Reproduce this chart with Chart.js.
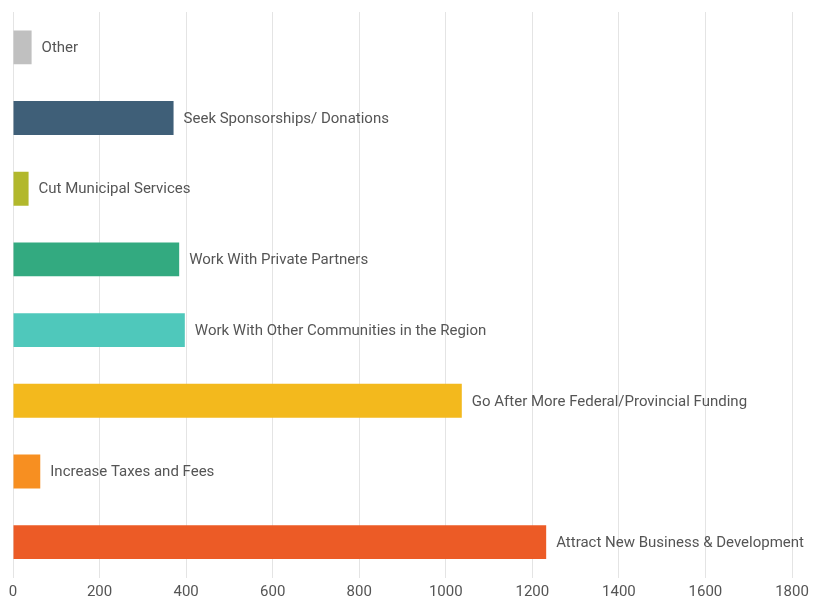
<!DOCTYPE html>
<html>
<head>
<meta charset="utf-8">
<script src="https://cdn.jsdelivr.net/npm/chart.js@4/dist/chart.umd.min.js"></script>
<style>
html,body{margin:0;padding:0;background:#fff;}
#wrap{width:815px;height:600px;}
</style>
</head>
<body>
<div id="wrap"><canvas id="c" width="815" height="600"></canvas></div>
<script>
const categories = [
  "Other",
  "Seek Sponsorships/ Donations",
  "Cut Municipal Services",
  "Work With Private Partners",
  "Work With Other Communities in the Region",
  "Go After More Federal/Provincial Funding",
  "Increase Taxes and Fees",
  "Attract New Business & Development"
];
const values = [43, 371, 36, 384, 397, 1037, 63, 1232];
const barColors = ["#c0c0c0", "#3f5f78", "#b2b82c", "#33aa80", "#4fc8bb", "#f3b91d", "#f78f21", "#ec5b26"];
const tickValues = [0, 200, 400, 600, 800, 1000, 1200, 1400, 1600, 1800];

const FONT = "Roboto, 'Noto Sans', sans-serif";

const barLabels = {
  id: 'barLabels',
  afterDatasetsDraw(chart) {
    const ctx = chart.ctx;
    const meta = chart.getDatasetMeta(0);
    ctx.save();
    ctx.font = "15px " + FONT;
    ctx.fillStyle = "#555555";
    ctx.textBaseline = "middle";
    ctx.textAlign = "left";
    meta.data.forEach((bar, i) => {
      ctx.fillText(categories[i], bar.x + 10, bar.y + 1);
    });
    ctx.restore();
  }
};

new Chart(document.getElementById('c'), {
  type: 'bar',
  data: {
    labels: categories,
    datasets: [{
      data: values,
      backgroundColor: barColors,
      borderWidth: 0,
      barPercentage: 0.48,
      categoryPercentage: 1.0
    }]
  },
  options: {
    indexAxis: 'y',
    responsive: false,
    animation: false,
    devicePixelRatio: 1,
    layout: { padding: { left: 13, right: 23, top: 12, bottom: 0 } },
    plugins: { legend: { display: false }, tooltip: { enabled: false } },
    scales: {
      y: { display: false },
      x: {
        min: 0,
        max: 1800,
        afterBuildTicks(scale) { scale.ticks = tickValues.map(v => ({ value: v })); },
        afterFit(scale) { scale.height = 22.5; },
        grid: { color: "#e4e4e4", lineWidth: 1, drawTicks: false },
        border: { display: false },
        ticks: {
          color: "#555555",
          font: { family: FONT, size: 15 },
          padding: 6,
          maxRotation: 0,
          autoSkip: false,
          callback: (v) => String(v)
        }
      }
    }
  },
  plugins: [barLabels]
});
</script>
</body>
</html>
